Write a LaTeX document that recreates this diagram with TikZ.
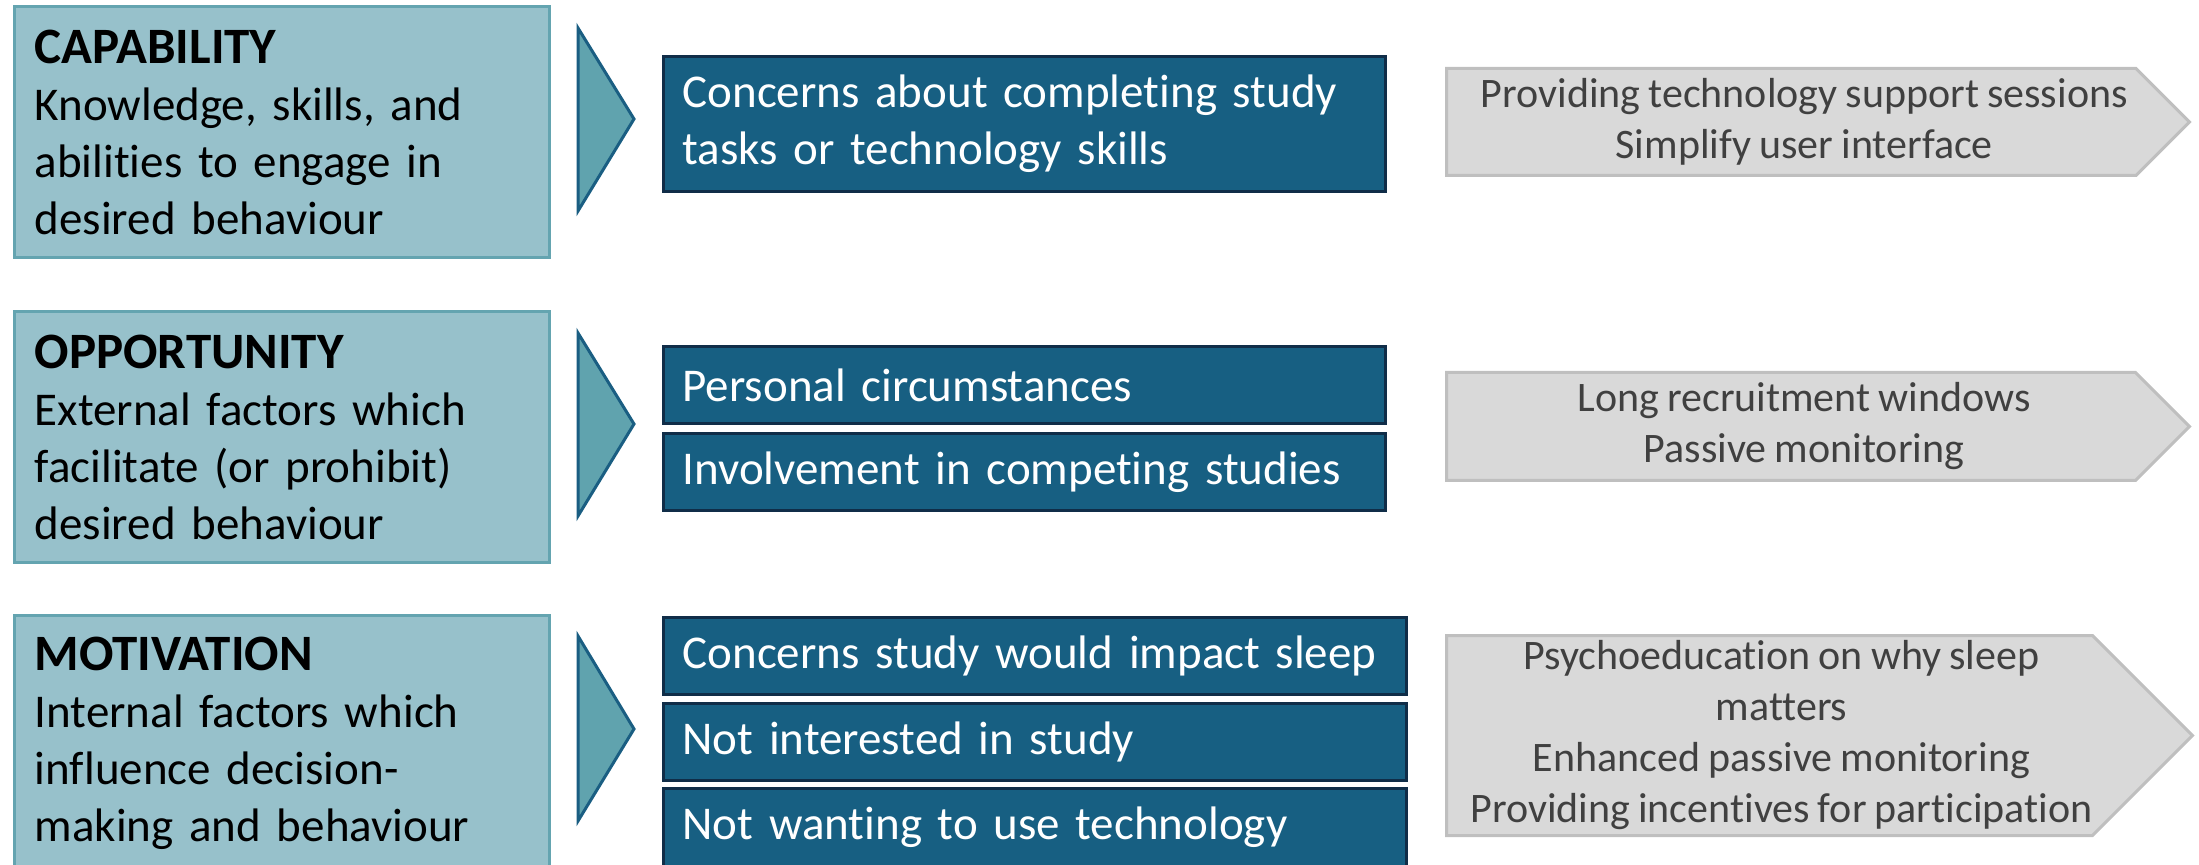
\documentclass[tikz,border=0pt]{standalone}
\usepackage{fontspec}
\setmainfont{Carlito}[Ligatures=NoCommon,WordSpace=0.85]
\usetikzlibrary{shapes.symbols}

\definecolor{combfill}{RGB}{151,193,203}
\definecolor{combline}{RGB}{100,164,176}
\definecolor{tipfill}{RGB}{96,163,174}
\definecolor{tipline}{RGB}{26,94,130}
\definecolor{barfill}{RGB}{23,95,130}
\definecolor{barline}{RGB}{16,45,72}
\definecolor{fixfill}{RGB}{217,217,217}
\definecolor{fixline}{RGB}{191,191,191}
\definecolor{fixtext}{RGB}{64,64,64}

\begin{document}
\begin{tikzpicture}[x=0.5pt,y=-0.5pt,
    combox/.style={draw=combline,fill=combfill,line width=1.5pt,anchor=north west,outer sep=0pt,
      inner xsep=10pt,inner ysep=0pt,minimum width=267.75pt,text width=247pt,align=left,
      font=\fontsize{23.5pt}{28.5pt}\selectfont},
    barbox/.style={draw=barline,fill=barfill,line width=1.5pt,anchor=north west,outer sep=0pt,
      inner xsep=9.5pt,inner ysep=0pt,text=white,align=left,
      font=\fontsize{23.5pt}{28.5pt}\selectfont},
    fixbox/.style={shape=signal,signal to=east,signal pointer angle=90,draw=fixline,fill=fixfill,
      line width=1.5pt,anchor=west,outer sep=0pt,inner sep=0pt,minimum width=371.5pt,
      text=fixtext,align=center,font=\fontsize{21pt}{25.5pt}\selectfont},
    tip/.style={draw=tipline,fill=tipfill,line width=1.5pt}]
\useasboundingbox (0,0) rectangle (2199,865);

% capability
\node[combox,minimum height=125.5pt] (cap) at (14,6.5)
  {{\bfseries\fontsize{25.5pt}{28.5pt}\selectfont CAPABILITY}\\Knowledge, skills, and\\abilities to engage in\\desired behaviour};
\filldraw[tip] (578,28) -- (578,211) -- (634,119) -- cycle;
\node[barbox,minimum width=361pt,text width=342pt,minimum height=67.5pt] (capbar) at (663.5,56.5)
  {Concerns about completing study\\tasks or technology skills};
\node[fixbox,minimum height=53.5pt] (capfix) at (1446.5,122)
  {\hspace*{13pt}Providing technology support sessions\\\hspace*{13pt}Simplify user interface};

% opportunity
\node[combox,minimum height=125.5pt] (opp) at (14,311.5)
  {{\bfseries\fontsize{25.5pt}{28.5pt}\selectfont OPPORTUNITY}\\External factors which\\facilitate (or prohibit)\\desired behaviour};
\filldraw[tip] (578,333) -- (578,516) -- (634,424) -- cycle;
\node[barbox,minimum width=361pt,text width=342pt,minimum height=38.5pt] (oppa) at (663.5,346.5)
  {Personal circumstances};
\node[barbox,minimum width=361pt,text width=342pt,minimum height=38.5pt] (oppb) at (663.5,433.5)
  {Involvement in competing studies};
\node[fixbox,minimum height=54pt] (oppfix) at (1446.5,426.5)
  {\hspace*{13pt}Long recruitment windows\\\hspace*{13pt}Passive monitoring};

% motivation
\node[combox,minimum height=128.25pt] (mot) at (14,615.5)
  {{\bfseries\fontsize{25.5pt}{28.5pt}\selectfont MOTIVATION}\\Internal factors which\\influence decision-\\making and behaviour};
\filldraw[tip] (578,636) -- (578,821) -- (634,729) -- cycle;
\node[barbox,minimum width=371.5pt,text width=352.5pt,minimum height=38.5pt] (mota) at (663.5,617.5)
  {Concerns study would impact sleep};
\node[barbox,minimum width=371.5pt,text width=352.5pt,minimum height=38.5pt] (motb) at (663.5,703.5)
  {Not interested in study};
\node[barbox,minimum width=371.5pt,text width=352.5pt,minimum height=39pt] (motc) at (663.5,788.5)
  {Not wanting to use technology};
\node[fixbox,minimum height=100pt] (motfix) at (1446.5,735.5)
  {\hspace*{12pt}Psychoeducation on why sleep\\\hspace*{12pt}matters\\\hspace*{12pt}Enhanced passive monitoring\\\hspace*{12pt}Providing incentives for participation};
\end{tikzpicture}
\end{document}
